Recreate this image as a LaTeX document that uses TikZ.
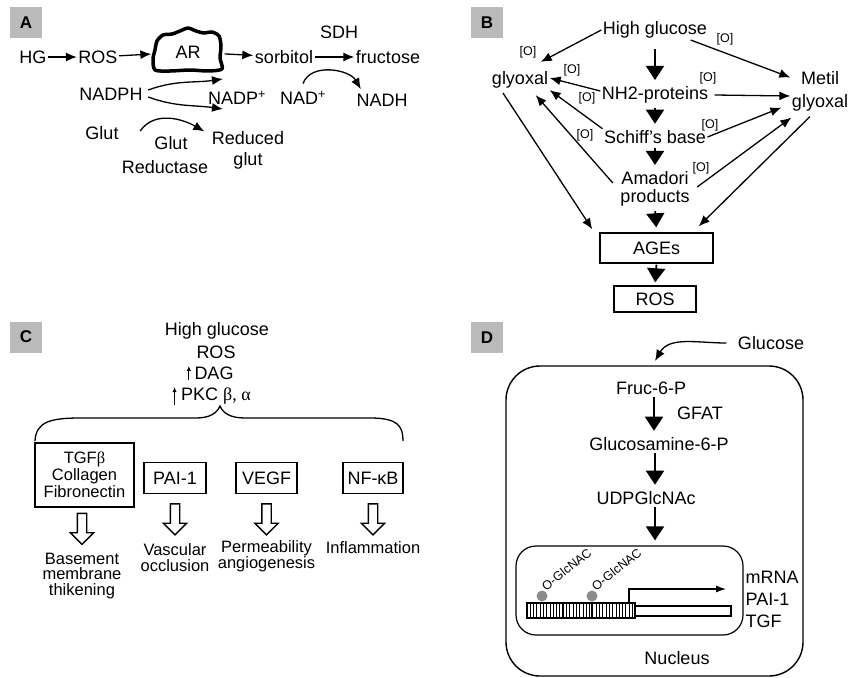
\documentclass[tikz,border=0pt]{standalone}
\usepackage{fontspec}
\setmainfont{Liberation Sans}
\newfontfamily\grk{Liberation Serif}
\usetikzlibrary{arrows.meta,positioning,shapes.arrows,calc}

\tikzset{
  txt/.style={font=\fontsize{18}{20}\selectfont, inner sep=1pt},
  oxy/.style={font=\fontsize{12.5}{13}\selectfont, inner sep=0pt},
  tag/.style={fill=black!27, minimum width=32pt, minimum height=31pt, inner sep=0pt, font=\fontsize{17}{17}\selectfont\bfseries},
  box/.style={txt, draw, line width=1.4pt},
  big/.style={-{Triangle[length=14pt,width=18pt]}, line width=1.8pt, shorten <=3pt, shorten >=5pt},
  hollow/.style={single arrow, draw, line width=1.4pt, fill=white, shape border rotate=270, minimum height=31pt, inner sep=4pt, single arrow head extend=7pt},
  glc/.style={rotate=38, anchor=south west, font=\fontsize{12.5}{12.5}\selectfont, inner sep=0pt},
}

\begin{document}
\begin{tikzpicture}[x=1pt, y=1pt, line width=1.3pt, >={Latex[length=11pt,width=9pt]}]
	\useasboundingbox (0,0) rectangle (850,-677);

	% A : polyol pathway
	\node[tag] (ta) at (26,-22.5) {A};
	\node[txt] (hg) at (33,-57) {HG};
	\node[txt] (ros) at (98,-57) {ROS};
	\node[txt, minimum width=72pt, minimum height=40pt] (ar) at (188,-52) {AR};
	\node[txt] (sor) at (284,-57) {sorbitol};
	\node[txt] (fru) at (388,-57) {fructose};
	\node[txt] (sdh) at (339,-32) {SDH};
	\node[txt] (nadph) at (111,-94) {NADPH};
	\node[txt] (nadp) at (237,-98) {NADP\textsuperscript{+}};
	\node[txt] (nad) at (303,-98) {NAD\textsuperscript{+}};
	\node[txt] (nadh) at (382,-100) {NADH};
	\node[txt] (glut) at (102,-133) {Glut};
	\node[txt] (glutb) at (171,-143) {Glut};
	\node[txt] (redt) at (165,-167) {Reductase};
	\node[txt, align=center, font=\fontsize{18}{21}\selectfont] (rglut) at (248,-150) {Reduced\\glut};

	\draw[line width=3.5pt, line join=round] plot[smooth cycle, tension=0.45] coordinates {(157,-41) (163,-35) (172,-34) (180,-31) (188,-28) (196,-31) (204,-33) (212,-32) (219,-36) (221,-46) (220,-58) (222,-69) (208,-71) (190,-70) (170,-71) (155,-70) (153,-59) (155,-50)};

	\coordinate (n1) at (223,-79);
	\coordinate (n2) at (223,-109);

	\begin{scope}[->]
		\path (hg) edge (ros);
		\path (ros) edge (ar);
		\path (ar) edge (sor);
		\path (sor) edge (fru);
		\draw ([shift={(4,4)}]nadph.east) to[out=20,in=188] (n1);
		\draw ([shift={(4,-3)}]nadph.east) to[out=-20,in=172] (n2);
		\draw ([yshift=6]nad.north) to[out=70,in=120] ([shift={(6,3)}]nadh.north west);
		\draw ([shift={(20,2)}]glut.east) to[out=55,in=150] ([shift={(-6,-2)}]rglut.north west);
	\end{scope}

	% B : AGEs
	\node[tag] (tb) at (487,-22.5) {B};
	\node[txt] (hgb) at (655,-30) {High glucose};
	\node[txt] (gly) at (520,-80) {glyoxal};
	\node[txt, align=center, font=\fontsize{18}{23}\selectfont] (mg) at (820,-91) {Metil\\glyoxal};
	\node[txt] (nh) at (655,-95) {NH2-proteins};
	\node[txt] (sb) at (655,-137) {Schiff's base};
	\node[txt, align=center, font=\fontsize{18}{18}\selectfont] (am) at (655,-189) {Amadori\\products};
	\node[box, minimum width=113pt, minimum height=30pt] (age) at (656.5,-248) {AGEs};
	\node[box, minimum width=82pt, minimum height=26pt] (rosb) at (655,-299) {ROS};

	\begin{scope}[oxy]
		\node (o1) at (725,-39) {[O]};
		\node (o2) at (528,-52) {[O]};
		\node (o3) at (572,-70) {[O]};
		\node (o4) at (708,-78) {[O]};
		\node (o5) at (587,-98) {[O]};
		\node (o6) at (585,-135) {[O]};
		\node (o7) at (710,-125) {[O]};
		\node (o8) at (701,-168) {[O]};
	\end{scope}

	\begin{scope}[->]
		\path (hgb.west) edge ([shift={(-9,8)}]gly.north east);
		\path ([xshift=-18]hgb.south east) edge ([yshift=-8]mg.north west);
		\path ([yshift=4]nh.west) edge ([yshift=2]gly.east);
		\path ([xshift=5]nh.east) edge ([yshift=-5]mg.west);
		\path (sb.north west) edge (gly.south east);
		\path (sb.east) edge ([shift={(-9,5)}]mg.south west);
		\path ([shift={(-6,6)}]am.west) edge ([shift={(-14,-5)}]gly.south east);
		\path ([shift={(6,2)}]am.east) edge ([shift={(1,-5)}]mg.south west);
		\path ([shift={(-17,-3)}]gly.south) edge ([shift={(-7,3)}]age.north west);
		\path ([shift={(-10,-4)}]mg.south) edge ([shift={(-15,6)}]age.north east);
	\end{scope}

	\draw[big, shorten <=9pt] (hgb.south) -- (nh.north);
	\draw[big] (nh.south) -- (sb.north);
	\draw[big] (sb.south) -- (am.north);
	\draw[big] (am.south) -- (age.north);
	\draw[big, shorten <=1pt, shorten >=3pt] (age.south) -- (rosb.north);

	% C : PKC
	\node[tag] (tc) at (26,-337) {C};
	\node[txt] (chg) at (217,-331) {High glucose};
	\node[txt] (cros) at (216,-352) {ROS};
	\node[txt] (dag) at (214,-373) {DAG};
	\node[txt] (pkc) at (216,-396) {PKC {\grk β, α}};
	\draw[-{Latex[length=5pt,width=4.5pt]}, line width=1.1pt] ([shift={(-4,1)}]dag.south west) -- ([shift={(-4,-1)}]dag.north west);
	\draw[-{Latex[length=5pt,width=4.5pt]}, line width=1.1pt] ([shift={(-5,1)}]pkc.south west) -- ([shift={(-5,-1)}]pkc.north west);

	\coordinate (bl) at (35,-441);
	\coordinate (bt) at (220,-406);
	\coordinate (br) at (403,-441);
	\draw (bl) .. controls (36,-422) and (50,-418) .. (80,-418) -- (196,-418) .. controls (210,-418) and (217,-413) .. (bt) .. controls (223,-413) and (230,-418) .. (245,-418) -- (370,-418) .. controls (398,-418) and (403,-426) .. (br);

	\node[box, align=center, font=\fontsize{16.5}{17}\selectfont, minimum width=99pt, minimum height=64pt, inner sep=0pt] (tgf) at (84.5,-475) {TGF{\grk β}\\Collagen\\Fibronectin};
	\node[box, minimum width=62pt, minimum height=31pt] (pai) at (175,-478) {PAI-1};
	\node[box, minimum width=61pt, minimum height=31pt] (vegf) at (266.5,-478) {VEGF};
	\node[box, minimum width=60pt, minimum height=31pt] (nfkb) at (373,-478) {NF-κB};

	\node[hollow, below=5pt of tgf, xshift=-2.5pt] (ha) {};
	\node[hollow, below=9pt of pai] (hb) {};
	\node[hollow, below=9pt of vegf] (hc) {};
	\node[hollow, below=9pt of nfkb] (hd) {};

	\begin{scope}[every node/.style={txt, align=center, font=\fontsize{16.5}{15.5}\selectfont}]
		\node[below=6pt of ha] (bm) {Basement\\membrane\\thikening};
		\node[below=6pt of hb] (vo) {Vascular\\occlusion};
		\node[below=3pt of hc] (pa) {Permeability\\angiogenesis};
		\node[below=4pt of hd] (inf) {Inflammation};
	\end{scope}

	% D : hexosamine pathway
	\node[tag] (td) at (487,-337.5) {D};
	\node[txt] (glc) at (771,-343) {Glucose};
	\node[draw, rounded corners=34pt, minimum width=297pt, minimum height=310pt, line width=1.4pt] (cell) at (654.5,-521) {};
	\coordinate (gin) at (655,-361);
	\draw[->] ([xshift=-10]glc.west) to[out=180,in=60] (gin);

	\node[txt] (fr) at (651,-388) {Fruc-6-P};
	\node[txt] (gfat) at (700,-413) {GFAT};
	\node[txt] (gl6) at (659,-444) {Glucosamine-6-P};
	\node[txt] (udp) at (646,-498) {UDPGlcNAc};
	\node[draw, rounded corners=20pt, minimum width=227pt, minimum height=89pt, line width=1.2pt] (nuc) at (629.5,-590.5) {};

	\draw[big, shorten <=1pt] ($(fr.south)+(3,0)$) -- ($(gl6.north)+(-5,0)$);
	\draw[big, shorten <=1pt] ($(gl6.south)+(-4,0)$) -- ($(udp.north)+(9,0)$);
	\draw[big, shorten <=1pt] ($(udp.south)+(9,0)$) -- ($(nuc.north)+(25.5,0)$);

	\draw[line width=1.3pt] (527,-603) rectangle (635,-618);
	\foreach \x in {530,533.3,...,633}
		\draw[line width=0.5pt] (\x,-603) -- (\x,-618);
	\draw[line width=1.3pt] (563,-603) -- (563,-618) (592,-603) -- (592,-618);
	\draw[line width=1.3pt] (635,-606) rectangle (731,-616);
	\draw[line width=2.4pt] (731,-605) -- (731,-617);

	\fill[black!45] (542,-596) circle (5.5);
	\fill[black!45] (592,-596) circle (5.5);
	\node[glc] (og1) at (546,-592) {O-GlcNAC};
	\node[glc] (og2) at (596,-592) {O-GlcNAC};
	\draw[-{Latex[length=10pt,width=7pt]}, line width=1.1pt] (629,-603) |- (726,-589);

	\node[txt, align=left, anchor=west, font=\fontsize{18}{22}\selectfont] (mrna) at (744,-599) {mRNA\\PAI-1\\TGF};
	\node[txt] (nl) at (677,-658) {Nucleus};
\end{tikzpicture}
\end{document}
